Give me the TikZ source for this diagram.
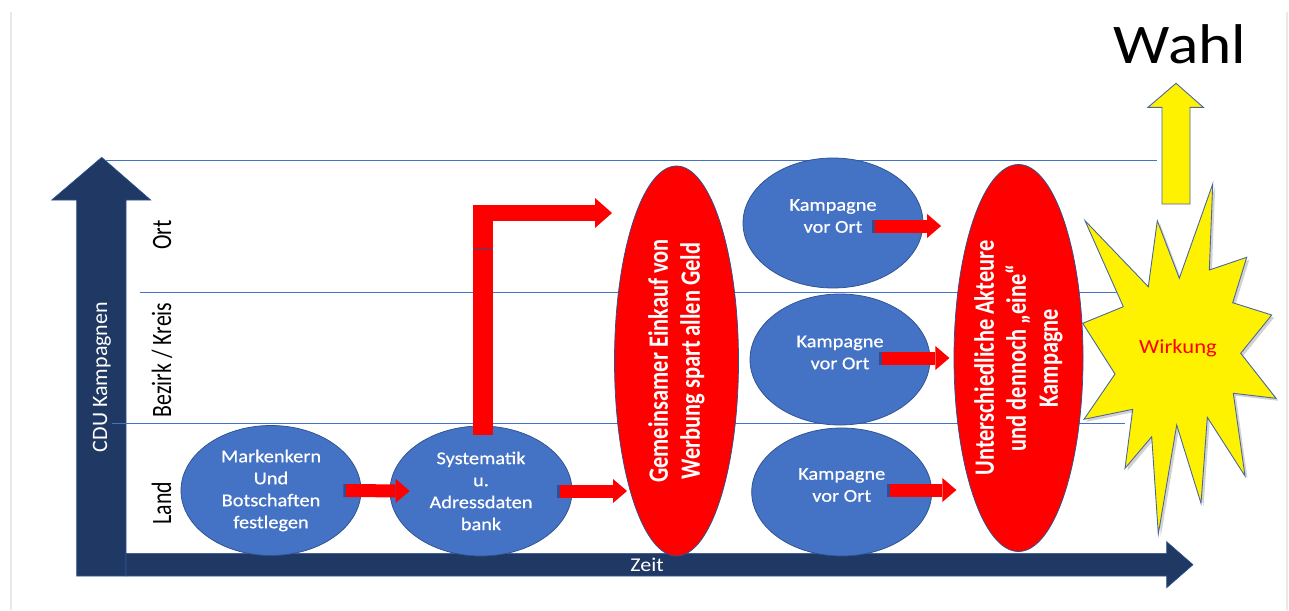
\documentclass[tikz,border=0pt]{standalone}
\usepackage{fontspec}
\setmainfont{Carlito}[FakeStretch=1.13]
\newfontfamily\plainfont{Carlito}
\newfontfamily\ellfont{Carlito}[FakeStretch=1.13,FakeBold=0.6]
\newfontfamily\narrowfont{Carlito}[FakeStretch=0.78]
\newfontfamily\squeezefont{Carlito}[FakeStretch=0.8]
\usetikzlibrary{shapes.geometric,arrows.meta,shadows}
\definecolor{navy}{HTML}{203864}
\definecolor{ellblue}{HTML}{4472C4}
\definecolor{edgeblue}{HTML}{2F528F}
\definecolor{stub}{HTML}{3B4A8F}
\definecolor{staredge}{HTML}{4A68A0}
\definecolor{pagegray}{HTML}{E8E8E8}

\begin{document}
\begin{tikzpicture}[x=1pt,y=-1pt,line join=miter,
    blueell/.style={ellipse, fill=ellblue, draw=edgeblue, line width=0.75pt, inner sep=0pt,
        minimum width=180pt, minimum height=130pt, text=white, align=center,
        font=\ellfont\fontsize{18}{22}\selectfont},
    kamptext/.style={text=white, align=center, font=\ellfont\fontsize{18}{22}\selectfont, yshift=7pt},
    redell/.style={ellipse, fill=red, draw=edgeblue, line width=0.75pt, inner sep=0pt, rotate=90,
        text=white, align=center, font=\squeezefont\bfseries\fontsize{28}{32}\selectfont},
    rowlabel/.style={rotate=90, anchor=base, font=\narrowfont\fontsize{28}{34}\selectfont},
    rowline/.style={draw=ellblue, line width=0.8pt},
    axis/.style={fill=navy, draw=edgeblue, line width=0.6pt},
    redarrow/.style={draw=red, line width=13pt,
        {Rectangle[length=2.5pt,width=13pt,color=stub,line width=0pt]}-{Triangle[length=14pt,width=24pt,line width=0pt]}},
    redbar/.style={draw=red, line width=20pt},
    bentarrow/.style={draw=red, line width=16pt, -{Triangle[length=17pt,width=30pt,line width=0pt]}},
    starshape/.style={fill=yellow, draw=staredge, line width=0.9pt,
        drop shadow={shadow xshift=2.5pt, shadow yshift=-2.5pt, opacity=0.35}},
    upshape/.style={fill=yellow, draw=staredge, line width=0.9pt}]

    \fill[white] (0,0) rectangle (1289,610);
    \useasboundingbox (0,0) rectangle (1289,610);
    \draw[pagegray, line width=2pt] (11,12) -- (11,610);  % page edges
    \draw[pagegray, line width=2pt] (1287,12) -- (1287,610);

    % Axes
    \draw[axis] (76.7,576) -- (76.7,200) -- (51.7,200) -- (101.7,157.3) -- (150.7,200) -- (126,200) -- (126,576) -- cycle;
    \draw[axis] (126,553.3) -- (1166.7,553.3) -- (1166.7,541.7) -- (1193,564.7) -- (1166.7,587.7) -- (1166.7,576) -- (126,576) -- cycle;
    \node[rotate=90, anchor=base, text=white, font=\plainfont\fontsize{22}{26}\selectfont] (cdu) at (107,377) {CDU Kampagnen};
    \node[anchor=base, text=white, font=\fontsize{19.5}{23}\selectfont] (zeit) at (647,571.7) {Zeit};

    % Level lines and labels
    \draw[rowline] (105,160.5) -- (1157,160.5);
    \draw[rowline] (140,292.3) -- (1125,292.3);
    \draw[rowline] (111.7,423.3) -- (1125,423.3);
    \node[rowlabel] (ort) at (171,235) {Ort};
    \node[rowlabel] (kreis) at (171,360) {Bezirk / Kreis};
    \node[rowlabel] (land) at (171,503) {Land};

    % Steps
    \node[blueell] (mk) at (271,490.5) {Markenkern\\Und\\Botschaften\\festlegen};
    \node[blueell, minimum width=182pt] (sy) at (481,491) {Systematik\\u.\\Adressdaten\\bank};
    \node[redell, minimum width=390pt, minimum height=124pt] (ge) at (676.5,361) {Gemeinsamer Einkauf von\\Werbung spart allen Geld};
    \node[blueell, label={[kamptext]center:{Kampagne\\vor Ort}}] (ko) at (833,223) {};
    \node[blueell, minimum height=131pt, label={[kamptext]center:{Kampagne\\vor Ort}}] (kk) at (840,359.5) {};
    \node[blueell, minimum height=128pt, label={[kamptext]center:{Kampagne\\vor Ort}}] (kl) at (841.7,492) {};
    \node[redell, minimum width=387pt, minimum height=129pt] (ua) at (1018.5,358) {Unterschiedliche Akteure\\und dennoch „eine“\\Kampagne};

    % Red arrows
    \coordinate (gein) at (627,491);
    \coordinate (seam) at (482.7,248);
    \coordinate (corner) at (482.7,205);
    \coordinate (ortin) at (612,213);
    \draw[redarrow] ([xshift=-18pt]mk.east) -- ([xshift=20pt]sy.west);
    \draw[redarrow] ([xshift=-15pt]sy.east) -- (gein);
    \draw[redbar] ([xshift=1.7pt,yshift=-9pt]sy.north) -- (seam);
    \draw[redbar] (seam) -- (corner);
    \draw[bentarrow] ([xshift=-10pt,yshift=-8pt]corner) -- (ortin);
    \draw[stub, line width=1pt] ([xshift=-10pt]seam) -- ([xshift=10pt]seam);
    \draw[redarrow] ([xshift=-51pt,yshift=-3pt]ko.east) -- ([xshift=17.7pt,yshift=-3pt]ko.east);
    \draw[redarrow] ([xshift=-51pt,yshift=1.5pt]kk.east) -- ([xshift=19pt,yshift=1.5pt]kk.east);
    \draw[redarrow] ([xshift=-45pt,yshift=2pt]kl.east) -- ([xshift=24.3pt,yshift=2pt]kl.east);

    % Effect and election
    \draw[starshape] (1085,220.7) -- (1148.3,286.7) -- (1157.3,220.7) -- (1179.3,278.3) -- (1212.7,184)
        -- (1209.3,270) -- (1246.7,257.3) -- (1232.7,302.7) -- (1271.7,315) -- (1240.7,353.3)
        -- (1276,398.3) -- (1233.3,393.3) -- (1245,476) -- (1207.3,417.3) -- (1201,503.3)
        -- (1176.7,425) -- (1158.3,534) -- (1151.7,436.7) -- (1125,468.3) -- (1132.7,409.3)
        -- (1084,419.3) -- (1115,374) -- (1082.7,323.3) -- (1123.3,306.7) -- cycle;
    \node[anchor=base, text=red, font=\fontsize{20}{24}\selectfont] (wirk) at (1178,353) {Wirkung};
    \draw[upshape] (1162,204) -- (1162,107.3) -- (1148,107.3) -- (1176,83.3) -- (1203.3,107.3) -- (1190,107.3) -- (1190,204) -- cycle;
    \node[anchor=base, font=\fontsize{56}{60}\selectfont] (wahl) at (1180,63.3) {Wahl};
\end{tikzpicture}
\end{document}
